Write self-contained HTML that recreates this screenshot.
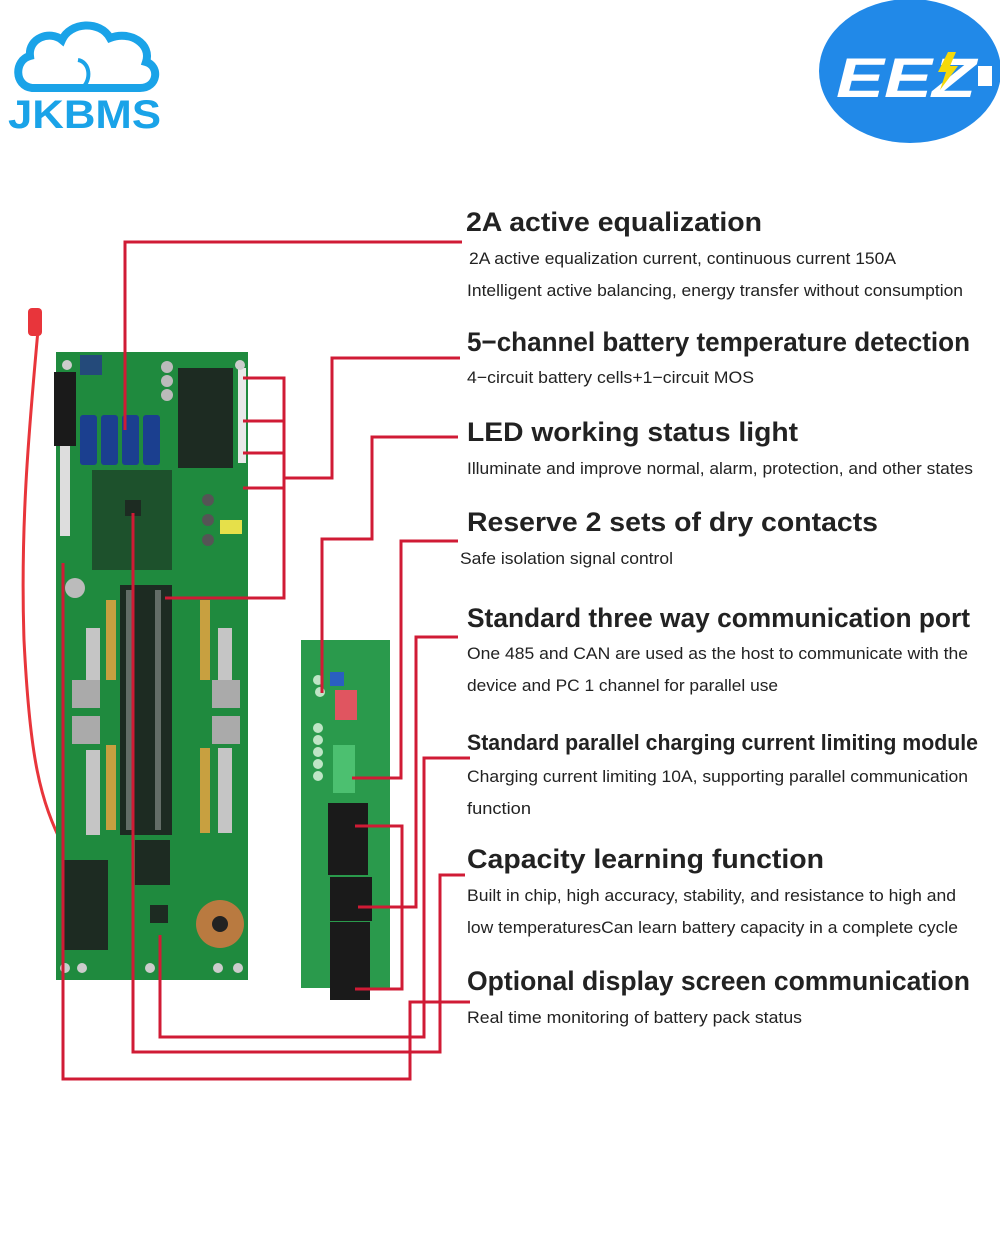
<!DOCTYPE html>
<html><head><meta charset="utf-8"><style>
html,body{margin:0;padding:0;background:#fff;}
svg{display:block}
.h{font-family:"Liberation Sans",sans-serif;font-weight:bold;fill:#222;font-size:27px}
.s{font-family:"Liberation Sans",sans-serif;fill:#222;font-size:17px}
</style></head><body>
<svg width="1000" height="1253" viewBox="0 0 1000 1253" xmlns="http://www.w3.org/2000/svg">
<rect width="1000" height="1253" fill="#fff"/>
<!-- JKBMS logo -->
<path d="M32,88 C14,86 14,60 30,56 C28,38 50,30 62,40 C70,22 100,20 110,38 C130,30 152,44 146,62 C160,66 158,88 140,88 Z" fill="none" stroke="#1aa3e8" stroke-width="8"/>
<path d="M78,60 C90,62 92,80 82,88" fill="none" stroke="#1aa3e8" stroke-width="4"/>
<text x="8" y="128" font-family="Liberation Sans,sans-serif" font-weight="bold" font-size="40" fill="#1aa3e8" textLength="153" lengthAdjust="spacingAndGlyphs">JKBMS</text>
<!-- EEZ logo -->
<ellipse cx="910" cy="71" rx="91" ry="72" fill="#2189e8"/>
<text x="836" y="97" font-family="Liberation Sans,sans-serif" font-weight="bold" font-style="italic" font-size="56" fill="#fff" textLength="140" lengthAdjust="spacingAndGlyphs">EEZ</text>
<path d="M948,52 L938,72 L946,72 L940,90 L958,66 L950,66 L956,52Z" fill="#f5d90a"/>
<rect x="978" y="66" width="14" height="20" fill="#fff"/>

<!-- red wire -->
<path d="M38,330 C30,420 20,520 24,640 C30,760 40,800 64,848" fill="none" stroke="#e8353b" stroke-width="3"/>
<rect x="28" y="308" width="14" height="28" rx="4" fill="#e8353b"/>

<!-- main board -->
<rect x="56" y="352" width="192" height="628" fill="#1f8a3e"/>
<rect x="54" y="372" width="22" height="74" fill="#1a1a1a"/>
<rect x="60" y="446" width="10" height="90" fill="#ddd"/>
<rect x="80" y="355" width="22" height="20" fill="#244a7a"/>
<g fill="#1b3f8f"><rect x="80" y="415" width="17" height="50" rx="3"/><rect x="101" y="415" width="17" height="50" rx="3"/><rect x="122" y="415" width="17" height="50" rx="3"/><rect x="143" y="415" width="17" height="50" rx="3"/></g>
<g fill="#bbb"><circle cx="167" cy="367" r="6"/><circle cx="167" cy="381" r="6"/><circle cx="167" cy="395" r="6"/></g>
<g fill="#1d2b22">
<rect x="178" y="368" width="55" height="100"/>
<rect x="92" y="470" width="80" height="100" opacity=".6"/>
<rect x="125" y="500" width="16" height="16"/>
<rect x="120" y="585" width="52" height="250"/>
<rect x="135" y="840" width="35" height="45"/>
<rect x="62" y="860" width="46" height="90"/>
<rect x="150" y="905" width="18" height="18"/>
</g>
<g fill="#e8e8e8"><rect x="126" y="590" width="6" height="240" opacity=".35"/><rect x="155" y="590" width="6" height="240" opacity=".35"/></g>
<rect x="238" y="368" width="8" height="95" fill="#e8e8e8"/>
<rect x="220" y="520" width="22" height="14" fill="#e6e04a"/>
<g fill="#555"><circle cx="208" cy="500" r="6"/><circle cx="208" cy="520" r="6"/><circle cx="208" cy="540" r="6"/></g>
<circle cx="75" cy="588" r="10" fill="#bbb"/>
<rect x="86" y="628" width="14" height="80" fill="#c5c5c5"/>
<rect x="86" y="750" width="14" height="85" fill="#c5c5c5"/>
<rect x="106" y="600" width="10" height="80" fill="#c8a040"/>
<rect x="106" y="745" width="10" height="85" fill="#c8a040"/>
<rect x="200" y="600" width="10" height="80" fill="#c8a040"/>
<rect x="200" y="748" width="10" height="85" fill="#c8a040"/>
<rect x="218" y="628" width="14" height="80" fill="#c5c5c5"/>
<rect x="218" y="748" width="14" height="85" fill="#c5c5c5"/>
<g fill="#aaa"><rect x="72" y="680" width="28" height="28"/><rect x="72" y="716" width="28" height="28"/><rect x="212" y="680" width="28" height="28"/><rect x="212" y="716" width="28" height="28"/></g>
<circle cx="220" cy="924" r="24" fill="#b97a40"/><circle cx="220" cy="924" r="8" fill="#222"/>
<g fill="#ccc"><circle cx="65" cy="968" r="5"/><circle cx="82" cy="968" r="5"/><circle cx="150" cy="968" r="5"/><circle cx="218" cy="968" r="5"/><circle cx="238" cy="968" r="5"/><circle cx="67" cy="365" r="5"/><circle cx="240" cy="365" r="5"/></g>

<!-- small board -->
<rect x="301" y="640" width="89" height="348" fill="#2a9a4c"/>
<rect x="330" y="672" width="14" height="14" fill="#2a5fc0"/>
<rect x="335" y="690" width="22" height="30" fill="#e05560"/>
<g fill="#bfe5c6"><circle cx="318" cy="680" r="5"/><circle cx="320" cy="692" r="5"/><circle cx="318" cy="728" r="5"/><circle cx="318" cy="740" r="5"/><circle cx="318" cy="752" r="5"/><circle cx="318" cy="764" r="5"/><circle cx="318" cy="776" r="5"/></g>
<rect x="333" y="745" width="22" height="48" fill="#4cc070"/>
<g fill="#1a1a1a"><rect x="328" y="803" width="40" height="72"/><rect x="330" y="877" width="42" height="44"/><rect x="330" y="922" width="40" height="78"/></g>

<!-- red connector lines -->
<g fill="none" stroke="#d01b35" stroke-width="3">
<polyline points="462,242 125,242 125,430"/>
<polyline points="460,358 332,358 332,478 284,478"/>
<polyline points="243,378 284,378 284,598 165,598"/>
<line x1="243" y1="421" x2="284" y2="421"/>
<line x1="243" y1="453" x2="284" y2="453"/>
<line x1="243" y1="488" x2="284" y2="488"/>
<polyline points="458,437 372,437 372,539 322,539 322,693"/>
<polyline points="458,541 401,541 401,778 352,778"/>
<polyline points="133,513 133,1052 440,1052 440,875 465,875"/>
<polyline points="160,935 160,1037 424,1037 424,758 470,758"/>
<polyline points="63,563 63,1079 410,1079 410,1002 470,1002"/>
<polyline points="458,637 416,637 416,907 358,907"/>
<polyline points="355,826 402,826 402,989 355,989"/>
</g>

<!-- text -->
<text class="h" x="466" y="231" textLength="296" lengthAdjust="spacingAndGlyphs">2A active equalization</text>
<text class="s" x="469" y="264" textLength="427" lengthAdjust="spacingAndGlyphs">2A active equalization current, continuous current 150A</text>
<text class="s" x="467" y="296" textLength="496" lengthAdjust="spacingAndGlyphs">Intelligent active balancing, energy transfer without consumption</text>
<text class="h" x="467" y="351" textLength="503" lengthAdjust="spacingAndGlyphs">5−channel battery temperature detection</text>
<text class="s" x="467" y="383" textLength="287" lengthAdjust="spacingAndGlyphs">4−circuit battery cells+1−circuit MOS</text>
<text class="h" x="467" y="441" textLength="331" lengthAdjust="spacingAndGlyphs">LED working status light</text>
<text class="s" x="467" y="474" textLength="506" lengthAdjust="spacingAndGlyphs">Illuminate and improve normal, alarm, protection, and other states</text>
<text class="h" x="467" y="531" textLength="411" lengthAdjust="spacingAndGlyphs">Reserve 2 sets of dry contacts</text>
<text class="s" x="460" y="564" textLength="213" lengthAdjust="spacingAndGlyphs">Safe isolation signal control</text>
<text class="h" x="467" y="627" textLength="503" lengthAdjust="spacingAndGlyphs">Standard three way communication port</text>
<text class="s" x="467" y="659" textLength="501" lengthAdjust="spacingAndGlyphs">One 485 and CAN are used as the host to communicate with the</text>
<text class="s" x="467" y="691" textLength="311" lengthAdjust="spacingAndGlyphs">device and PC 1 channel for parallel use</text>
<text class="h" x="467" y="750" style="font-size:22px" textLength="511" lengthAdjust="spacingAndGlyphs">Standard parallel charging current limiting module</text>
<text class="s" x="467" y="782" textLength="501" lengthAdjust="spacingAndGlyphs">Charging current limiting 10A, supporting parallel communication</text>
<text class="s" x="467" y="814" textLength="64" lengthAdjust="spacingAndGlyphs">function</text>
<text class="h" x="467" y="868" textLength="357" lengthAdjust="spacingAndGlyphs">Capacity learning function</text>
<text class="s" x="467" y="901" textLength="489" lengthAdjust="spacingAndGlyphs">Built in chip, high accuracy, stability, and resistance to high and</text>
<text class="s" x="467" y="933" textLength="491" lengthAdjust="spacingAndGlyphs">low temperaturesCan learn battery capacity in a complete cycle</text>
<text class="h" x="467" y="990" textLength="503" lengthAdjust="spacingAndGlyphs">Optional display screen communication</text>
<text class="s" x="467" y="1023" textLength="335" lengthAdjust="spacingAndGlyphs">Real time monitoring of battery pack status</text>
</svg>
</body></html>
